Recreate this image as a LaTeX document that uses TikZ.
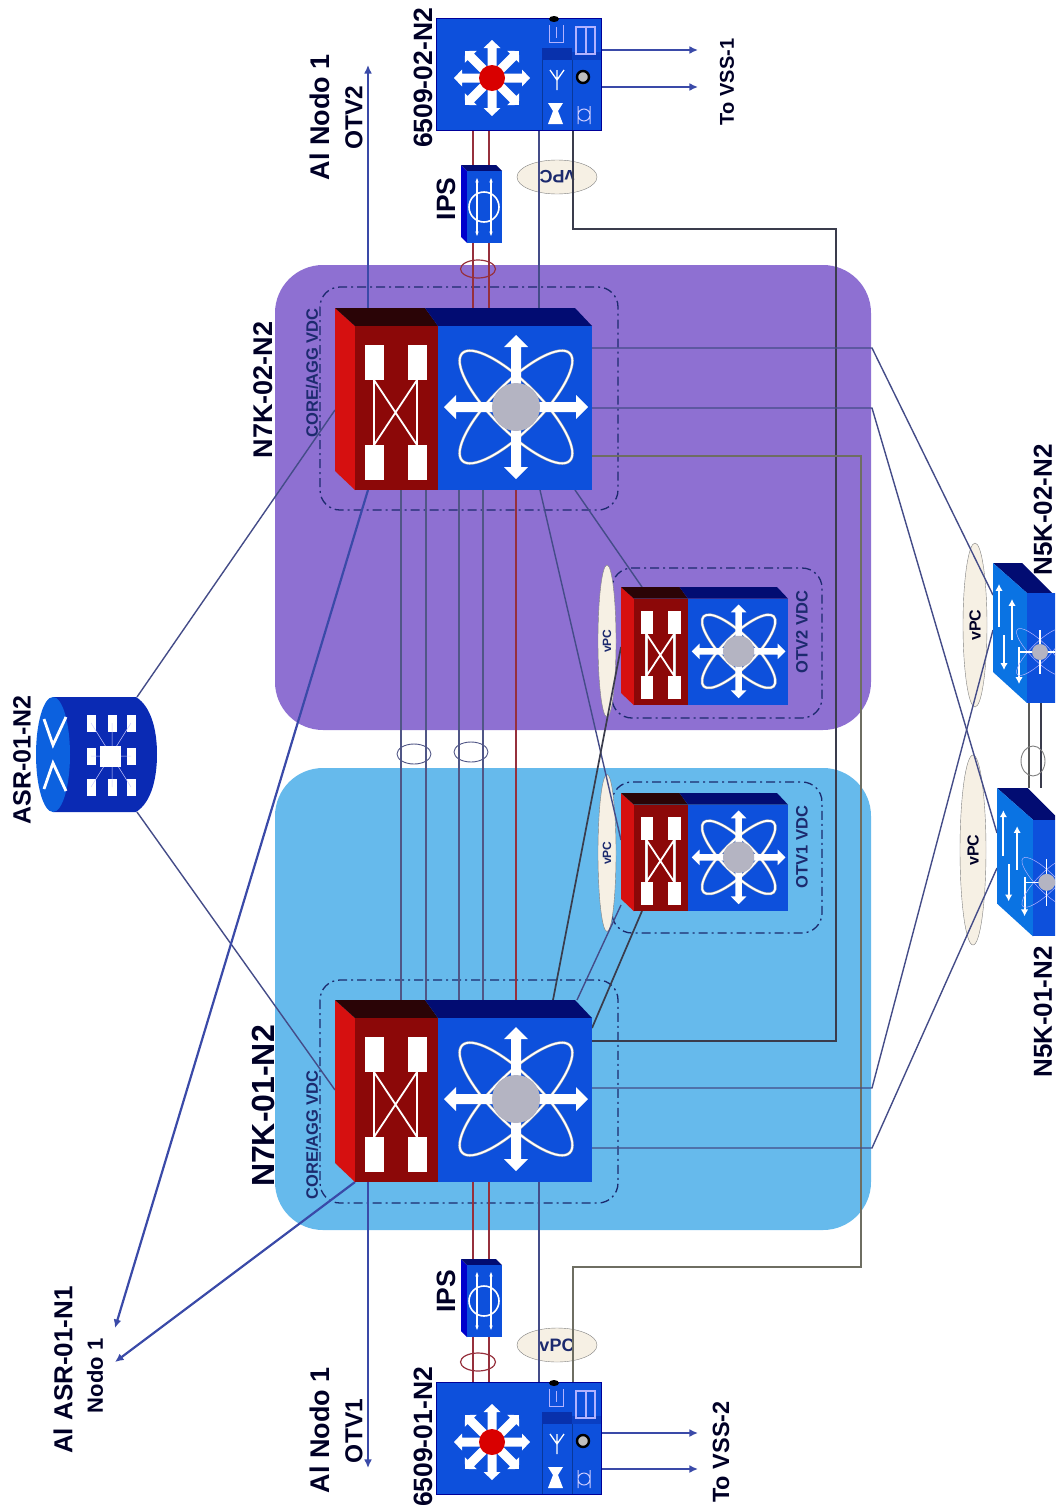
\documentclass[tikz,border=0pt]{standalone}
\usepackage{fontspec}
\setmainfont{Liberation Sans}
\usepackage{xcolor}
\usepackage{tikz}
\usetikzlibrary{arrows.meta,positioning,shapes.geometric}

\definecolor{vdcpurple}{HTML}{8E70D2}
\definecolor{vdcblue}{HTML}{66BAEC}
\definecolor{devblue}{HTML}{0D50DC}
\definecolor{devnavy}{HTML}{020C72}
\definecolor{devred}{HTML}{8C0808}
\definecolor{sidered}{HTML}{D61010}
\definecolor{topred}{HTML}{2A0406}
\definecolor{asrblue}{HTML}{0A2AB4}
\definecolor{hubgray}{HTML}{B4B4C2}
\definecolor{textnavy}{HTML}{1C2A6E}
\definecolor{linkred}{HTML}{96303C}
\definecolor{linkblue}{HTML}{3A4AA8}
\definecolor{linknavy}{HTML}{444C88}
\definecolor{linkgray}{HTML}{6E6E62}
\definecolor{linkdark}{HTML}{3A3C4C}
\definecolor{ringfill}{HTML}{F6F0E4}

\tikzset{
  % Large chassis, drawn at 257 x 182
  nexusbox/.pic={
    \fill[sidered] (0,0) -- (20,18) -- (20,182) -- (0,163) -- cycle;
    \fill[topred] (0,0) -- (90,0) -- (103,18) -- (20,18) -- cycle;
    \fill[devnavy] (90,0) -- (240,0) -- (257,18) -- (103,18) -- cycle;
    \fill[devred] (20,18) rectangle (103,182);
    \fill[devblue] (103,18) rectangle (257,182);
    % Crossbar symbol
    \draw[gray!40, line width=2.4pt] (39,72) -- (39,137) (82,72) -- (82,137);
    \draw[white, line width=1.8pt] (39,72) -- (39,137) (82,72) -- (82,137) (39,72) -- (82,137) (82,72) -- (39,137);
    \foreach \px/\py in {30/37,73/37,30/137,73/137}
      \fill[white] (\px,\py) rectangle ++(19,35);
    % Orbit symbol
    \foreach \a in {45,-45} {
      \draw[gray!70, line width=2.8pt, shift={(181,99)}, rotate=\a] (0,0) ellipse [x radius=76, y radius=24];
      \draw[white, line width=1.8pt, shift={(181,99)}, rotate=\a] (0,0) ellipse [x radius=76, y radius=24];
    }
    \foreach \a in {0,90,180,270}
      \fill[white, shift={(181,99)}, rotate=\a] (0,-5) -- (60,-5) -- (60,-12) -- (72,0) -- (60,12) -- (60,5) -- (0,5) -- cycle;
    \fill[hubgray] (181,99) circle [radius=24];
  },
  % Access chassis, drawn at 165 x 112
  sixfivebox/.pic={
    \fill[devblue] (0,0) rectangle (165,112);
    \draw[blue!60!black, line width=.8pt] (0,0) rectangle (165,112);
    \fill[devnavy!45!devblue] (106,30) rectangle (136,42);
    \fill[devnavy!25!devblue] (136,34) rectangle (165,42);
    \draw[devblue!70!black, line width=.5pt] (106,42) -- (106,112) (136,42) -- (136,112);
    \foreach \a in {0,45,...,315}
      \fill[white, shift={(56,60)}, rotate=\a] (0,-4.5) -- (30,-4.5) -- (30,-8.5) -- (38,0) -- (30,8.5) -- (30,4.5) -- (0,4.5) -- cycle;
    \fill[red!85!black] (56,60) circle [radius=13];
    % Service module icons
    \fill[black] (118,1) ellipse [x radius=5, y radius=3];
    \draw[white!70!blue, line width=1pt] (113,7) -- (113,24) -- (127,24) -- (127,7) (120,9) -- (120,20);
    \draw[white!70!blue, line width=1.2pt] (140,9) rectangle (159,36) (150,9) -- (150,36);
    \draw[white, line width=1.3pt] (121,52) -- (121,72) (114,52) -- (121,62) -- (128,52);
    \fill[white] (112,85) -- (127,85) -- (122,93) -- (127,106) -- (112,106) -- (117,93) -- cycle;
    \draw[black, line width=2.4pt, fill=gray!50] (147,59) circle [radius=6];
    \draw[white!80!blue, line width=1pt] (142,88) -- (142,106) (154,88) -- (154,106) (148,97) circle [radius=6];
  },
  % In-line appliance, drawn at 41 x 78
  ipsbox/.pic={
    \fill[blue!80!black] (0,0) -- (6,6) -- (6,78) -- (0,72) -- cycle;
    \fill[devnavy] (0,0) -- (35,0) -- (41,6) -- (6,6) -- cycle;
    \fill[devblue] (6,6) rectangle (41,78);
    \draw[white, line width=1.6pt] (23,42) circle [radius=15];
    \draw[white, line width=1.6pt, {Stealth[length=1.6mm]}-{Stealth[length=1.6mm]}] (16,13) -- (16,71);
    \draw[white, line width=1.6pt, {Stealth[length=1.6mm]}-{Stealth[length=1.6mm]}] (30,13) -- (30,71);
  },
  % Router cylinder, drawn at 121 x 115
  asrbox/.pic={
    \fill[asrblue] (17,0) -- (100,0) .. controls (116,10) and (121,35) .. (121,57) .. controls (121,80) and (116,105) .. (100,115) -- (17,115) -- cycle;
    \fill[devblue!90!cyan] (17,57.5) ellipse [x radius=17, y radius=57.5];
    \draw[white, line width=2.8pt] (8,22) -- (17,48) -- (30,20) (8,92) -- (17,66) -- (30,94);
    \foreach \px in {55,76,95}
      \foreach \py in {26,59,90}
        \fill[white] (\px-4.5,\py-8.5) rectangle ++(9,17);
    \draw[white!80!blue, line width=.5pt] (55,26) -- (95,90) (95,26) -- (55,90) (76,26) -- (76,90) (55,59) -- (95,59);
    \fill[white] (64,49) rectangle (85,70);
  },
  % Fabric switch, side face and a part of the front
  fiveboxfront/.pic={
    \fill[devnavy] (0,0) -- (29,0) -- (59,30) -- (34,30) -- cycle;
    \fill[devblue!80!cyan] (0,0) -- (34,30) -- (34,140) -- (0,109) -- cycle;
    \fill[devblue] (34,30) rectangle (70,140);
    \draw[white, -{Latex[length=2.4mm, width=2.6mm]}, line width=2pt] (6,64) -- (6,21);
    \draw[white, -{Latex[length=2.4mm, width=2.6mm]}, line width=2pt] (19,77) -- (19,36);
    \draw[white, -{Latex[length=2.4mm, width=2.6mm]}, line width=2pt] (11,72) -- (11,107);
    \draw[white, -{Latex[length=2.4mm, width=2.6mm]}, line width=2pt] (26,84) -- (26,121);
    \foreach \a in {45,-45}
      \draw[white!70!blue, line width=.5pt, shift={(47,89)}, rotate=\a] (0,0) ellipse [x radius=32, y radius=9];
    \foreach \a in {0,90,180,270}
      \draw[white, line width=1.2pt, shift={(47,89)}, rotate=\a] (0,0) -- (22,0);
    \fill[hubgray] (47,89) circle [radius=8];
  }
}

\begin{document}
\begin{tikzpicture}[x=1pt, y=-1pt,
  every node/.style={font=\bfseries},
  devbox/.style={anchor=north west, inner sep=0pt, outer sep=0pt},
  bigtag/.style={rotate=90, text=black!85!blue, font=\bfseries\fontsize{26.5}{27}\selectfont},
  midtag/.style={rotate=90, text=black!85!blue, font=\bfseries\fontsize{26}{26}\selectfont},
  vdctag/.style={rotate=90, text=textnavy, font=\bfseries\fontsize{16.5}{17}\selectfont},
  vdcframe/.style={draw=textnavy, line width=1.3pt, dash pattern=on 9pt off 4pt on 2pt off 4pt, rounded corners=20pt},
  vpcring/.style={draw=gray, fill=ringfill, ellipse, inner sep=0pt, text=textnavy},
  linkring/.style={draw=linknavy!80!gray, line width=.9pt, ellipse, inner sep=0pt},
  redlink/.style={draw=linkred, line width=2pt},
  bluelink/.style={draw=linknavy, line width=1.4pt},
  graylink/.style={draw=linkgray, line width=1.5pt},
  darklink/.style={draw=linkdark, line width=1.7pt},
  outlink/.style={draw=linkblue, line width=2.2pt, -{Latex[length=3mm, width=2.8mm]}}]

\useasboundingbox (0,0) rectangle (1055,1510);
\clip (0,0) rectangle (1055,1510);

% Site backgrounds
\fill[vdcpurple, rounded corners=48pt] (275,265) rectangle (871,730);
\fill[vdcblue, rounded corners=48pt] (275,768) rectangle (871,1230);

% VDC frames
\draw[vdcframe] (320,287) rectangle (618,510);
\draw[vdcframe] (320,980) rectangle (618,1203);
\draw[vdcframe] (612,568) rectangle (822,718);
\draw[vdcframe] (612,782) rectangle (822,933);

% Device outlines, used as link ends
\node[devbox, minimum width=257pt, minimum height=182pt] (n7ktwo) at (335,308) {};
\node[devbox, minimum width=257pt, minimum height=182pt] (n7kone) at (335,1000) {};
\node[devbox, minimum width=167pt, minimum height=118pt] (otvtwo) at (621,587) {};
\node[devbox, minimum width=167pt, minimum height=118pt] (otvone) at (621,793) {};
\node[devbox, minimum width=165pt, minimum height=110pt] (cattwo) at (436,18) {};
\node[devbox, minimum width=165pt, minimum height=112pt] (catone) at (436,1382) {};
\node[devbox, minimum width=41pt, minimum height=78pt] (ipstwo) at (461,165) {};
\node[devbox, minimum width=41pt, minimum height=78pt] (ipsone) at (461,1259) {};
\node[devbox, minimum width=121pt, minimum height=115pt] (asr) at (36,697) {};
\node[devbox, minimum width=62pt, minimum height=140pt] (n5ktwo) at (993,563) {};
\node[devbox, minimum width=62pt, minimum height=147pt] (n5kone) at (997,788) {};

% Link ends that leave the picture
\coordinate (asrnodeA) at (115,1328);
\coordinate (asrnodeB) at (115,1362);
\coordinate (otvendtwo) at (368,65);
\coordinate (otvendone) at (368,1468);
\coordinate (vssA) at (698,50);
\coordinate (vssB) at (698,87);
\coordinate (vssC) at (698,1433);
\coordinate (vssD) at (698,1469);

% vPC bundles under the links
\node[vpcring, minimum width=80pt, minimum height=34pt, font=\bfseries\fontsize{18}{18}\selectfont] (vpcone) at (557,1345) {vPC};
\node[vpcring, minimum width=80pt, minimum height=34pt, rotate=180, font=\bfseries\fontsize{18}{18}\selectfont] (vpctwo) at (557,177) {vPC};
\node[vpcring, rotate=90, minimum width=152pt, minimum height=18pt, font=\bfseries\fontsize{12}{12}\selectfont] (vpcotvtwo) at (607,641) {vPC};
\node[vpcring, rotate=90, minimum width=157pt, minimum height=18pt, font=\bfseries\fontsize{12}{12}\selectfont] (vpcotvone) at (607,853) {vPC};
\node[vpcring, rotate=90, minimum width=164pt, minimum height=24pt, text=black!85!blue, font=\bfseries\fontsize{16}{16}\selectfont] (vpcfivetwo) at (975,625) {vPC};
\node[vpcring, rotate=90, minimum width=190pt, minimum height=26pt, text=black!85!blue, font=\bfseries\fontsize{16}{16}\selectfont] (vpcfiveone) at (973,850) {vPC};

% Inter-site links
\foreach \x in {401,426,459,483}
  \draw[bluelink, draw=linknavy!80!gray] (n7ktwo.south -| \x,0) -- (n7kone.north -| \x,0);
\draw[redlink] (n7ktwo.south -| 516,0) -- (n7kone.north -| 516,0);

% Router uplinks
\draw[bluelink] (asr.north -| 137,0) -- (n7ktwo.west |- 0,410);
\draw[bluelink] (asr.south -| 137,0) -- (n7kone.west |- 0,1090);
\draw[outlink] (n7ktwo.south -| 368,0) -- (asrnodeA);
\draw[outlink] (n7kone.south -| 355,0) -- (asrnodeB);
\draw[outlink, line width=1.7pt] (n7ktwo.north -| 368,0) -- (otvendtwo);
\draw[outlink, line width=1.7pt] (n7kone.south -| 368,0) -- (otvendone);

% Chassis to IPS to access
\foreach \x in {473,489} {
  \draw[redlink] (cattwo.south -| \x,0) -- (ipstwo.north -| \x,0);
  \draw[redlink] (ipstwo.south -| \x,0) -- (n7ktwo.north -| \x,0);
  \draw[redlink] (n7kone.south -| \x,0) -- (ipsone.north -| \x,0);
  \draw[redlink] (ipsone.south -| \x,0) -- (catone.north -| \x,0);
}
\draw[bluelink] (cattwo.south -| 539,0) -- (n7ktwo.north -| 539,0);
\draw[bluelink] (n7kone.south -| 539,0) -- (catone.north -| 539,0);

% Cross-connects around the sites
\draw[darklink] (cattwo.south -| 573,0) -- (573,229) -- (836,229) -- (836,1041) -- (n7kone.east |- 0,1041);
\draw[graylink] (catone.north -| 573,0) -- (573,1267) -- (861,1267) -- (861,456) -- (n7ktwo.east |- 0,456);

% Chassis to OTV blocks
\draw[bluelink] (n7ktwo.south -| 540,0) -- (otvone.west |- 0,840);
\draw[bluelink] (n7ktwo.south -| 575,0) -- (otvtwo.north -| 642,0);
\draw[darklink] (n7kone.north -| 553,0) -- (otvtwo.west |- 0,647);
\draw[bluelink] (n7kone.north -| 577,0) -- (otvone.west |- 0,905);
\draw[darklink] (n7kone.east |- 0,1028) -- (otvone.south -| 642,0);

% Chassis to fabric switches
\draw[bluelink] (n7ktwo.east |- 0,348) -- (872,348) -- (n5ktwo.west |- 0,595);
\draw[bluelink] (n7ktwo.east |- 0,408) -- (872,408) -- (n5kone.west |- 0,833);
\draw[bluelink] (n7kone.east |- 0,1088) -- (872,1088) -- (n5ktwo.west |- 0,630);
\draw[bluelink] (n7kone.east |- 0,1148) -- (872,1148) -- (n5kone.west |- 0,868);
\draw[darklink, line width=2pt, draw=gray!70!black] (n5ktwo.south -| 1029,0) -- (n5kone.north -| 1029,0);
\draw[darklink, line width=1.8pt] (n5ktwo.south -| 1041,0) -- (n5kone.north -| 1041,0);

% Access uplinks
\draw[outlink] (cattwo.east |- vssA) -- (vssA);
\draw[outlink] (cattwo.east |- vssB) -- (vssB);
\draw[outlink] (catone.east |- vssC) -- (vssC);
\draw[outlink] (catone.east |- vssD) -- (vssD);

% Bundle rings
\node[linkring, draw=linkred, line width=1.2pt, minimum width=35pt, minimum height=18pt] (ringipstwo) at (478,269) {};
\node[linkring, draw=linkred, line width=1.2pt, minimum width=35pt, minimum height=18pt] (ringcatone) at (478,1362) {};
\node[linkring, minimum width=34pt, minimum height=20pt] (ringa) at (414,754) {};
\node[linkring, minimum width=34pt, minimum height=20pt] (ringb) at (471,752) {};
\node[linkring, draw=gray, minimum width=24pt, minimum height=30pt] (ringfive) at (1033,761) {};

% Devices
\pic at (335,308) {nexusbox};
\pic at (335,1000) {nexusbox};
\pic[scale=.65] at (621,587) {nexusbox};
\pic[scale=.65] at (621,793) {nexusbox};
\pic at (436,18) {sixfivebox};
\pic at (436,1382) {sixfivebox};
\pic at (461,165) {ipsbox};
\pic at (461,1259) {ipsbox};
\pic at (36,697) {asrbox};
\pic at (993,563) {fiveboxfront};
\pic[scale=1.06] at (997,788) {fiveboxfront};

% Device names
\node[bigtag, font=\bfseries\fontsize{27}{27}\selectfont] (namea) at (263,390) {N7K-02-N2};
\node[bigtag, font=\bfseries\fontsize{32}{32}\selectfont] (nameb) at (263,1106) {N7K-01-N2};
\node[bigtag] (namec) at (423,78) {6509-02-N2};
\node[bigtag] (named) at (423,1437) {6509-01-N2};
\node[bigtag] (namee) at (446,199) {IPS};
\node[bigtag] (namef) at (446,1291) {IPS};
\node[bigtag, font=\bfseries\fontsize{25}{25}\selectfont] (nameg) at (22,760) {ASR-01-N2};
\node[midtag] (nameh) at (1043,510) {N5K-02-N2};
\node[midtag] (namei) at (1043,1012) {N5K-01-N2};

% VDC names
\node[vdctag] (vdca) at (312,373) {CORE/AGG VDC};
\node[vdctag] (vdcb) at (312,1135) {CORE/AGG VDC};
\node[vdctag] (vdcc) at (802,632) {OTV2 VDC};
\node[vdctag] (vdcd) at (802,847) {OTV1 VDC};

% Far ends
\node[midtag, font=\bfseries\fontsize{27}{27}\selectfont] (farA) at (320,117) {Al Nodo 1};
\node[midtag, font=\bfseries\fontsize{24.5}{25}\selectfont] (farB) at (354,118) {OTV2};
\node[midtag, font=\bfseries\fontsize{27}{27}\selectfont] (farC) at (320,1430) {Al Nodo 1};
\node[midtag, font=\bfseries\fontsize{24.5}{25}\selectfont] (farD) at (354,1431) {OTV1};
\node[midtag, font=\bfseries\fontsize{20}{20}\selectfont] (farE) at (727,82) {To VSS-1};
\node[midtag, font=\bfseries\fontsize{23.5}{24}\selectfont] (farF) at (721,1452) {To VSS-2};
\node[bigtag, font=\bfseries\fontsize{26}{26}\selectfont] (farG) at (63,1370) {Al ASR-01-N1};
\node[midtag, font=\bfseries\fontsize{22}{22}\selectfont] (farH) at (95,1376) {Nodo 1};

\end{tikzpicture}
\end{document}
